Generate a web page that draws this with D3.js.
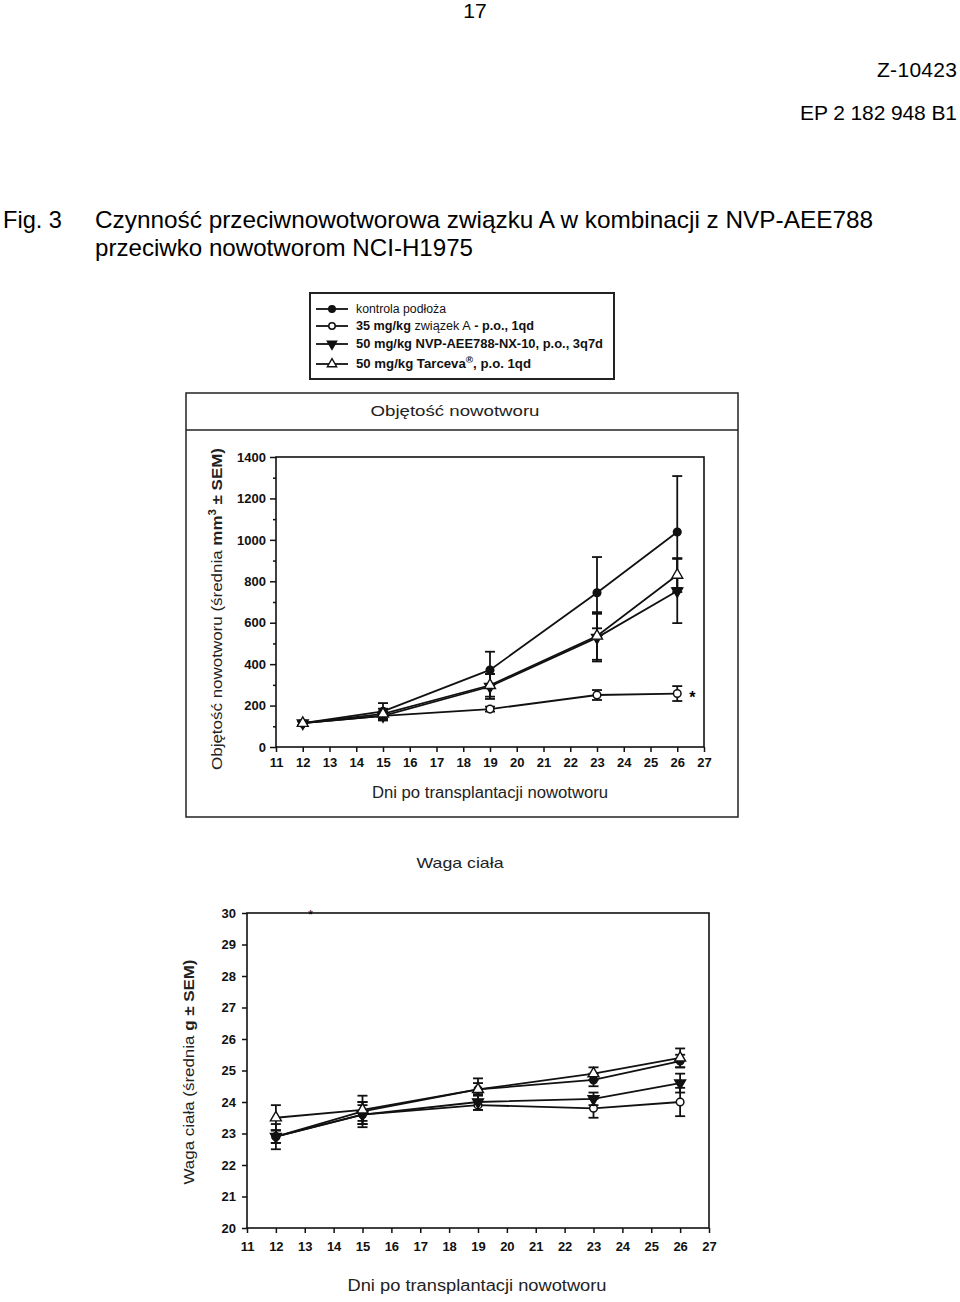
<!DOCTYPE html>
<html>
<head>
  <meta charset="utf-8">
  <title>Fig. 3 - NCI-H1975</title>
  <script src="https://d3js.org/d3.v7.min.js"></script>
  <style>
    body { margin: 0; background: #fff; }
    svg { display: block; }
    .narrow { font-family: "Liberation Sans Narrow", "Arial Narrow", "Liberation Sans", Arial, sans-serif; }
    .ax text { font-family: "Liberation Sans", Arial, sans-serif; font-weight: bold; font-size: 13px; fill: #111; }
    .ax line { stroke: #111; stroke-width: 1.5; }
  </style>
</head>
<body>
<svg width="960" height="1302"></svg>
<script>
  // dane
  var days = [12, 15, 19, 23, 26];
  var xTicks = d3.range(11, 28);
  var volTicks = [0, 200, 400, 600, 800, 1000, 1200, 1400];
  var wtTicks = [20, 21, 22, 23, 24, 25, 26, 27, 28, 29, 30];

  var volControl = [115, 172, 372, 745, 1038];
  var volControlErr = [8, 40, 88, 172, 270];
  var volCompA = [115, 150, 183, 251, 258];
  var volCompAErr = [8, 14, 12, 24, 36];
  var volNvp = [115, 150, 292, 528, 753];
  var volNvpErr = [8, 22, 60, 115, 155];
  var volTarceva = [115, 160, 298, 536, 830];
  var volTarcevaErr = [8, 25, 55, 115, 82];

  var wtControl = [22.9, 23.7, 24.4, 24.7, 25.3];
  var wtControlErr = [0.4, 0.3, 0.2, 0.2, 0.2];
  var wtCompA = [22.9, 23.6, 23.9, 23.8, 24.0];
  var wtCompAErr = [0.2, 0.3, 0.15, 0.3, 0.45];
  var wtNvp = [22.9, 23.6, 24.0, 24.1, 24.6];
  var wtNvpErr = [0.2, 0.4, 0.25, 0.2, 0.3];
  var wtTarceva = [23.5, 23.75, 24.4, 24.9, 25.4];
  var wtTarcevaErr = [0.4, 0.45, 0.35, 0.2, 0.3];

  var markers = ["dot", "circle", "down", "up"];

  var svg = d3.select("svg");

  // naglowek strony
  svg.append("text").attr("class", "narrow").attr("x", 475).attr("y", 18)
    .attr("text-anchor", "middle").attr("font-size", 21).text("17");
  svg.append("text").attr("class", "narrow").attr("x", 957).attr("y", 77)
    .attr("text-anchor", "end").attr("font-size", 21).attr("textLength", 80).text("Z-10423");
  svg.append("text").attr("class", "narrow").attr("x", 957).attr("y", 120)
    .attr("text-anchor", "end").attr("font-size", 21).attr("textLength", 157).text("EP 2 182 948 B1");

  svg.append("text").attr("class", "narrow").attr("x", 3).attr("y", 228)
    .attr("font-size", 24).attr("textLength", 59).attr("lengthAdjust", "spacingAndGlyphs").text("Fig. 3");
  svg.append("text").attr("class", "narrow").attr("x", 95).attr("y", 228)
    .attr("font-size", 24).attr("textLength", 778).attr("lengthAdjust", "spacingAndGlyphs")
    .text("Czynność przeciwnowotworowa związku A w kombinacji z NVP-AEE788");
  svg.append("text").attr("class", "narrow").attr("x", 95).attr("y", 256)
    .attr("font-size", 24).attr("textLength", 378).attr("lengthAdjust", "spacingAndGlyphs")
    .text("przeciwko nowotworom NCI-H1975");

  // legenda
  var legend = svg.append("g");
  legend.append("rect").attr("x", 310).attr("y", 293).attr("width", 304).attr("height", 86)
    .attr("fill", "none").attr("stroke", "#222").attr("stroke-width", 2);
  var legendY = [309, 326, 344, 364];
  var legendLen = [90, 178, 247, 175];
  var legendTexts = [
    [["kontrola podłoża", "normal"]],
    [["35 mg/kg ", "bold"], ["związek A", "normal"], [" - p.o., 1qd", "bold"]],
    [["50 mg/kg NVP-AEE788-NX-10, p.o., 3q7d", "bold"]],
    [["50 mg/kg Tarceva", "bold"], ["®", "bold", true], [", p.o. 1qd", "bold"]]
  ];
  legendY.forEach(function (ly, i) {
    legend.append("line").attr("x1", 316).attr("x2", 348).attr("y1", ly).attr("y2", ly)
      .attr("stroke", "#111").attr("stroke-width", 1.8);
    drawMarker(legend, markers[i], 332, ly, 0.85);
    var t = legend.append("text").attr("x", 356).attr("y", ly + 4)
      .attr("font-family", "Liberation Sans, Arial, sans-serif").attr("font-size", 12).attr("fill", "#111")
      .attr("textLength", legendLen[i]).attr("lengthAdjust", "spacingAndGlyphs");
    legendTexts[i].forEach(function (p) {
      var s = t.append("tspan").attr("font-weight", p[1]).text(p[0]);
      if (p[2]) s.attr("font-size", 9).attr("dy", -5);
      else if (i === 3 && p[0].indexOf(",") === 0) s.attr("dy", 5);
    });
  });

  function drawMarker(g, type, cx, cy, k) {
    k = k || 1;
    if (type === "dot" || type === "circle") {
      g.append("circle").attr("cx", cx).attr("cy", cy).attr("r", 3.8 * k)
        .attr("fill", type === "dot" ? "#111" : "#fff").attr("stroke", "#111").attr("stroke-width", 1.5);
    } else {
      var sym = d3.symbol().type(d3.symbolTriangle).size(52 * k * k);
      g.append("path").attr("d", sym())
        .attr("transform", "translate(" + cx + "," + cy + ")" + (type === "down" ? " rotate(180)" : ""))
        .attr("fill", type === "down" ? "#111" : "#fff").attr("stroke", "#111").attr("stroke-width", 1.4);
    }
  }

  function drawSeries(g, x, y, vals, errs, type) {
    var pts = days.map(function (d, i) { return [d, vals[i], errs[i]]; });
    g.append("path").datum(pts)
      .attr("fill", "none").attr("stroke", "#111").attr("stroke-width", 1.8)
      .attr("d", d3.line().x(function (p) { return x(p[0]); }).y(function (p) { return y(p[1]); }));
    pts.forEach(function (p) {
      var cx = x(p[0]), y1 = y(p[1] + p[2]), y2 = y(p[1] - p[2]);
      g.append("line").attr("x1", cx).attr("x2", cx).attr("y1", y1).attr("y2", y2)
        .attr("stroke", "#111").attr("stroke-width", 1.8);
      [y1, y2].forEach(function (yy) {
        g.append("line").attr("x1", cx - 5).attr("x2", cx + 5).attr("y1", yy).attr("y2", yy)
          .attr("stroke", "#111").attr("stroke-width", 1.8);
      });
    });
    pts.forEach(function (p) { drawMarker(g, type, x(p[0]), y(p[1])); });
  }

  // ---------- wykres 1: objetosc nowotworu ----------
  svg.append("rect").attr("x", 186).attr("y", 393).attr("width", 552).attr("height", 424)
    .attr("fill", "none").attr("stroke", "#222").attr("stroke-width", 1.5);
  svg.append("line").attr("x1", 186).attr("x2", 738).attr("y1", 430).attr("y2", 430)
    .attr("stroke", "#222").attr("stroke-width", 1.5);
  svg.append("text").attr("x", 455).attr("y", 416).attr("text-anchor", "middle")
    .attr("font-family", "Liberation Sans, Arial, sans-serif").attr("font-size", 15).attr("fill", "#222")
    .attr("textLength", 169).attr("lengthAdjust", "spacingAndGlyphs")
    .text("Objętość nowotworu");

  var x1 = d3.scaleLinear().domain([11, 27]).range([276, 704]);
  var y1 = d3.scaleLinear().domain([0, 1400]).range([747, 457]);

  var g1 = svg.append("g");
  g1.append("rect").attr("x", 276).attr("y", 457).attr("width", 428).attr("height", 290)
    .attr("fill", "none").attr("stroke", "#111").attr("stroke-width", 1.6);
  g1.append("g").attr("class", "ax").attr("transform", "translate(0,747)")
    .call(d3.axisBottom(x1).tickValues(xTicks).tickSize(5).tickPadding(6).tickFormat(d3.format("d")))
    .call(function (a) { a.select(".domain").remove(); });
  g1.append("g").attr("class", "ax").attr("transform", "translate(276,0)")
    .call(d3.axisLeft(y1).tickValues(d3.range(100, 1400, 200)).tickSize(3).tickFormat(""))
    .call(function (a) { a.select(".domain").remove(); });
  g1.append("g").attr("class", "ax").attr("transform", "translate(276,0)")
    .call(d3.axisLeft(y1).tickValues(volTicks).tickSize(6).tickPadding(4).tickFormat(d3.format("d")))
    .call(function (a) { a.select(".domain").remove(); });

  var volSeries = [[volControl, volControlErr], [volCompA, volCompAErr], [volNvp, volNvpErr], [volTarceva, volTarcevaErr]];
  volSeries.forEach(function (s, i) { drawSeries(g1, x1, y1, s[0], s[1], markers[i]); });
  g1.append("text").attr("x", x1(26) + 12).attr("y", y1(volCompA[4]) + 9)
    .attr("font-family", "Liberation Sans, Arial, sans-serif").attr("font-weight", "bold").attr("font-size", 16).text("*");

  var yl1 = g1.append("text").attr("transform", "translate(222,609) rotate(-90)").attr("text-anchor", "middle")
    .attr("font-family", "Liberation Sans, Arial, sans-serif").attr("font-size", 15).attr("fill", "#222")
    .attr("textLength", 322).attr("lengthAdjust", "spacingAndGlyphs");
  yl1.append("tspan").text("Objętość nowotworu (średnia ");
  yl1.append("tspan").attr("font-weight", "bold").text("mm");
  yl1.append("tspan").attr("font-weight", "bold").attr("font-size", 10).attr("dy", -6).text("3");
  yl1.append("tspan").attr("font-weight", "bold").attr("dy", 6).text(" ± SEM)");

  g1.append("text").attr("x", 490).attr("y", 798).attr("text-anchor", "middle")
    .attr("font-family", "Liberation Sans, Arial, sans-serif").attr("font-size", 16).attr("fill", "#222")
    .attr("textLength", 236).attr("lengthAdjust", "spacingAndGlyphs")
    .text("Dni po transplantacji nowotworu");

  // ---------- wykres 2: waga ciala ----------
  svg.append("text").attr("x", 460).attr("y", 868).attr("text-anchor", "middle")
    .attr("font-family", "Liberation Sans, Arial, sans-serif").attr("font-size", 15).attr("fill", "#222")
    .attr("textLength", 87).attr("lengthAdjust", "spacingAndGlyphs")
    .text("Waga ciała");

  var x2 = d3.scaleLinear().domain([11, 27]).range([247, 709]);
  var y2 = d3.scaleLinear().domain([20, 30]).range([1228, 913]);

  var g2 = svg.append("g");
  g2.append("rect").attr("x", 247).attr("y", 913).attr("width", 462).attr("height", 315)
    .attr("fill", "none").attr("stroke", "#111").attr("stroke-width", 1.6);
  g2.append("g").attr("class", "ax").attr("transform", "translate(0,1228)")
    .call(d3.axisBottom(x2).tickValues(xTicks).tickSize(5).tickPadding(9).tickFormat(d3.format("d")))
    .call(function (a) { a.select(".domain").remove(); });
  g2.append("g").attr("class", "ax").attr("transform", "translate(247,0)")
    .call(d3.axisLeft(y2).tickValues(wtTicks).tickSize(5).tickPadding(6).tickFormat(d3.format("d")))
    .call(function (a) { a.select(".domain").remove(); });

  var wtSeries = [[wtControl, wtControlErr], [wtCompA, wtCompAErr], [wtNvp, wtNvpErr], [wtTarceva, wtTarcevaErr]];
  wtSeries.forEach(function (s, i) { drawSeries(g2, x2, y2, s[0], s[1], markers[i]); });
  g2.append("text").attr("x", x2(13.2)).attr("y", 919).attr("text-anchor", "middle")
    .attr("font-family", "Liberation Sans, Arial, sans-serif").attr("font-size", 13).text("*");

  var yl2 = g2.append("text").attr("transform", "translate(194,1072) rotate(-90)").attr("text-anchor", "middle")
    .attr("font-family", "Liberation Sans, Arial, sans-serif").attr("font-size", 15).attr("fill", "#222")
    .attr("textLength", 225).attr("lengthAdjust", "spacingAndGlyphs");
  yl2.append("tspan").text("Waga ciała (średnia ");
  yl2.append("tspan").attr("font-weight", "bold").text("g ± SEM)");

  g2.append("text").attr("x", 477).attr("y", 1291).attr("text-anchor", "middle")
    .attr("font-family", "Liberation Sans, Arial, sans-serif").attr("font-size", 16).attr("fill", "#222")
    .attr("textLength", 259).attr("lengthAdjust", "spacingAndGlyphs")
    .text("Dni po transplantacji nowotworu");
</script>
</body>
</html>
